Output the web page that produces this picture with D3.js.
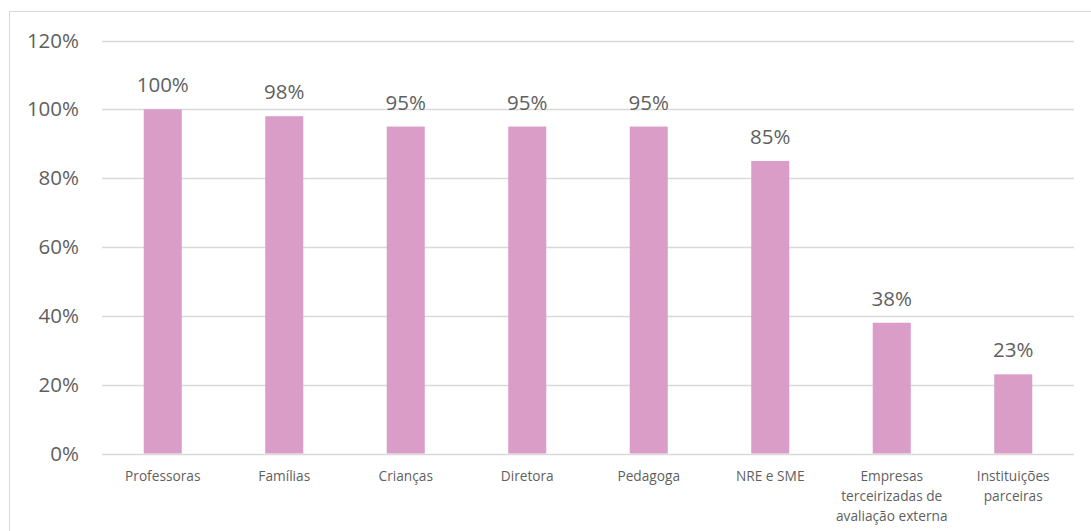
<!DOCTYPE html>
<html>
<head>
<meta charset="utf-8">
<script src="https://cdn.jsdelivr.net/npm/d3@7"></script>
<style>
  html, body { margin: 0; padding: 0; background: #fff; }
  svg { display: block; }
</style>
</head>
<body>
<svg id="chart" width="1091" height="531"></svg>
<script>
// Stakeholder participation shares
const categories = [
  ["Professoras"],
  ["Famílias"],
  ["Crianças"],
  ["Diretora"],
  ["Pedagoga"],
  ["NRE e SME"],
  ["Empresas", "terceirizadas de", "avaliação externa"],
  ["Instituições", "parceiras"]
];
const values = [100, 98, 95, 95, 95, 85, 38, 23];
const yTicks = [0, 20, 40, 60, 80, 100, 120];

const svg = d3.select("#chart");
const W = 1091, H = 531;
const margin = { left: 102, right: 17, top: 40.5, bottom: 77.5 };
const font = "'Open Sans', 'Noto Sans', sans-serif";
const textColor = "#5f5f5f";
const grid = "#D9D9D9";
const barColor = "#DA9DC7";

// Chart frame
svg.append("rect")
  .attr("x", 9.5).attr("y", 11.5)
  .attr("width", W).attr("height", H)
  .attr("fill", "none").attr("stroke", grid).attr("stroke-width", 1);

const x = d3.scaleBand()
  .domain(d3.range(categories.length))
  .range([margin.left, W - margin.right])
  .paddingInner(0.687).paddingOuter(0.3435);

const y = d3.scaleLinear()
  .domain([0, 120])
  .range([H - margin.bottom, margin.top]);

// Gridlines
svg.append("g")
  .selectAll("line")
  .data(yTicks)
  .join("line")
  .attr("x1", margin.left).attr("x2", W - margin.right)
  .attr("y1", d => Math.round(y(d)) + 0.5).attr("y2", d => Math.round(y(d)) + 0.5)
  .attr("stroke", grid).attr("stroke-width", 1.3);

// Y axis labels
const yAxis = d3.axisLeft(y).tickValues(yTicks).tickFormat(d => d + "%").tickSize(0).tickPadding(23);
const ya = svg.append("g").attr("transform", `translate(${margin.left},0)`).call(yAxis);
ya.select(".domain").remove();
ya.selectAll("text")
  .attr("fill", textColor)
  .style("font-family", font)
  .style("font-size", "20.5px");

// Bars
svg.append("g")
  .selectAll("rect")
  .data(values)
  .join("rect")
  .attr("x", (d, i) => x(i))
  .attr("width", x.bandwidth())
  .attr("y", d => y(d))
  .attr("height", d => y(0) - y(d))
  .attr("fill", barColor);

// Value labels
svg.append("g")
  .selectAll("text")
  .data(values)
  .join("text")
  .attr("x", (d, i) => x(i) + x.bandwidth() / 2)
  .attr("y", d => y(d) - 17)
  .attr("text-anchor", "middle")
  .attr("fill", textColor)
  .style("font-family", font)
  .style("font-size", "20.5px")
  .text(d => d + "%");

// Category labels
const cat = svg.append("g")
  .selectAll("text")
  .data(categories)
  .join("text")
  .attr("x", (d, i) => x(i) + x.bandwidth() / 2)
  .attr("y", y(0) + 27)
  .attr("text-anchor", "middle")
  .attr("fill", textColor)
  .style("font-family", font)
  .style("font-size", "13.7px");
cat.selectAll("tspan")
  .data(d => d)
  .join("tspan")
  .attr("x", function() { return d3.select(this.parentNode).attr("x"); })
  .attr("dy", (d, i) => i === 0 ? 0 : 20)
  .text(d => d);
</script>
</body>
</html>
